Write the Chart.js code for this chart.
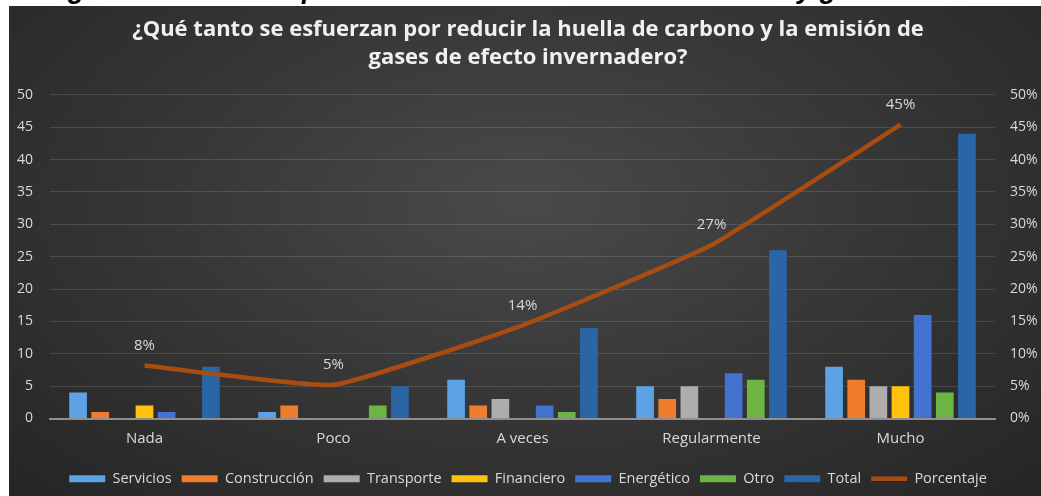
<!DOCTYPE html>
<html lang="es">
<head>
<meta charset="utf-8">
<title>Esfuerzos por reducir la huella de carbono</title>
<script src="https://cdn.jsdelivr.net/npm/chart.js@4.4.1/dist/chart.umd.min.js"></script>
<style>
    html, body { margin: 0; padding: 0; background: #fff; }
    body { width: 1041px; height: 496px; overflow: hidden; position: relative; }
    .pie-figura {
        position: absolute; left: 44px; top: -26px;
        font: italic bold 27px "Liberation Sans", Arial, sans-serif;
        color: #000; white-space: nowrap;
    }
    .grafico {
        position: absolute; left: 9px; top: 6px; width: 1032px; height: 490px;
        background: radial-gradient(ellipse farthest-corner at 50% 40%, #4a4a4a 0%, #383838 45%, #252525 100%);
    }
</style>
</head>
<body>
<div class="pie-figura">Figura 5: Esfuerzos por reducción de la huella de carbono y gases invernadero</div>
<div class="grafico"><canvas id="grafico"></canvas></div>
<script>
// --- Datos ---
const categorias = ['Nada', 'Poco', 'A veces', 'Regularmente', 'Mucho'];
const servicios    = [4, 1, 6, 5, 8];
const construccion = [1, 2, 2, 3, 6];
const transporte   = [0, 0, 3, 5, 5];
const financiero   = [2, 0, 0, 0, 5];
const energetico   = [1, 0, 2, 7, 16];
const otro         = [0, 2, 1, 6, 4];
const total        = [8, 5, 14, 26, 44];
const porcentaje   = [8.2, 5.2, 14.4, 26.8, 45.4];
const ticksCantidad   = [0, 5, 10, 15, 20, 25, 30, 35, 40, 45, 50];
const ticksPorcentaje = [0, 5, 10, 15, 20, 25, 30, 35, 40, 45, 50];

const titulo = [
    '¿Qué tanto se esfuerzan por reducir la huella de carbono y la emisión de',
    'gases de efecto invernadero?'
];

const textoClaro = '#d9d9d9';
const fuente = '"Open Sans", Lato, sans-serif';

function barra(label, data, color) {
    return {
        type: 'bar', label, data,
        backgroundColor: color,
        borderWidth: 0,
        pointStyle: 'rect',
        order: 1,
        yAxisID: 'y'
    };
}

// Etiquetas de porcentaje encima de la línea
const etiquetasLinea = {
    id: 'etiquetasLinea',
    afterDatasetsDraw(chart) {
        const ctx = chart.ctx;
        const idx = chart.data.datasets.findIndex(d => d.type === 'line');
        const meta = chart.getDatasetMeta(idx);
        ctx.save();
        ctx.fillStyle = textoClaro;
        ctx.font = '15px ' + fuente;
        ctx.textAlign = 'center';
        ctx.textBaseline = 'middle';
        meta.data.forEach((p, i) => {
            ctx.fillText(Math.round(porcentaje[i]) + '%', p.x, p.y - 20);
        });
        ctx.restore();
    }
};

document.addEventListener('DOMContentLoaded', () => {
    const ctx = document.getElementById('grafico');

    new Chart(ctx, {
        data: {
            labels: categorias,
            datasets: [
                barra('Servicios', servicios, '#5ca2e5'),
                barra('Construcción', construccion, '#f07d2e'),
                barra('Transporte', transporte, '#adadad'),
                barra('Financiero', financiero, '#ffc20e'),
                barra('Energético', energetico, '#4273d0'),
                barra('Otro', otro, '#6cb544'),
                barra('Total', total, '#2a66a6'),
                {
                    type: 'line',
                    label: 'Porcentaje',
                    data: porcentaje,
                    borderColor: '#a94c12',
                    backgroundColor: '#a94c12',
                    borderWidth: 4.5,
                    tension: 0.12,
                    pointRadius: 0,
                    pointStyle: 'line',
                    order: 0,
                    yAxisID: 'y1'
                }
            ]
        },
        options: {
            responsive: true,
            maintainAspectRatio: false,
            animation: false,
            datasets: {
                bar: { categoryPercentage: 0.82, barPercentage: 0.8 }
            },
            layout: { padding: { left: 8, right: 2, top: 0, bottom: 0 } },
            plugins: {
                tooltip: { enabled: false },
                title: {
                    display: true,
                    text: titulo,
                    color: '#f0f0f0',
                    font: { family: fuente, size: 22, weight: 'bold', lineHeight: 1.27 },
                    padding: { top: 10, bottom: 23 }
                },
                legend: {
                    position: 'bottom',
                    labels: {
                        sort: (a, b) => a.datasetIndex - b.datasetIndex,
                        usePointStyle: true,
                        pointStyleWidth: 36,
                        boxHeight: 7,
                        color: textoClaro,
                        font: { family: fuente, size: 14.5 },
                        padding: 10
                    }
                }
            },
            scales: {
                x: {
                    grid: { display: false, drawTicks: false },
                    border: { display: true, color: '#8f8f8f', width: 2 },
                    ticks: { color: textoClaro, font: { family: fuente, size: 15 }, padding: 11 },
                    afterFit: s => { s.height += 3; }
                },
                y: {
                    position: 'left',
                    min: 0, max: 50,
                    afterBuildTicks: s => { s.ticks = ticksCantidad.map(v => ({ value: v })); },
                    afterFit: s => { s.width = 33; },
                    grid: { color: 'rgba(255,255,255,0.13)', drawTicks: false },
                    border: { display: false },
                    ticks: { color: textoClaro, font: { family: fuente, size: 14 }, padding: 17 }
                },
                y1: {
                    position: 'right',
                    min: 0, max: 50,
                    afterBuildTicks: s => { s.ticks = ticksPorcentaje.map(v => ({ value: v })); },
                    afterFit: s => { s.width = 44; },
                    grid: { display: false, drawTicks: false },
                    border: { display: false },
                    ticks: {
                        color: textoClaro,
                        font: { family: fuente, size: 14 },
                        padding: 15,
                        callback: v => v + '%'
                    }
                }
            }
        },
        plugins: [etiquetasLinea]
    });
});
</script>
</body>
</html>
